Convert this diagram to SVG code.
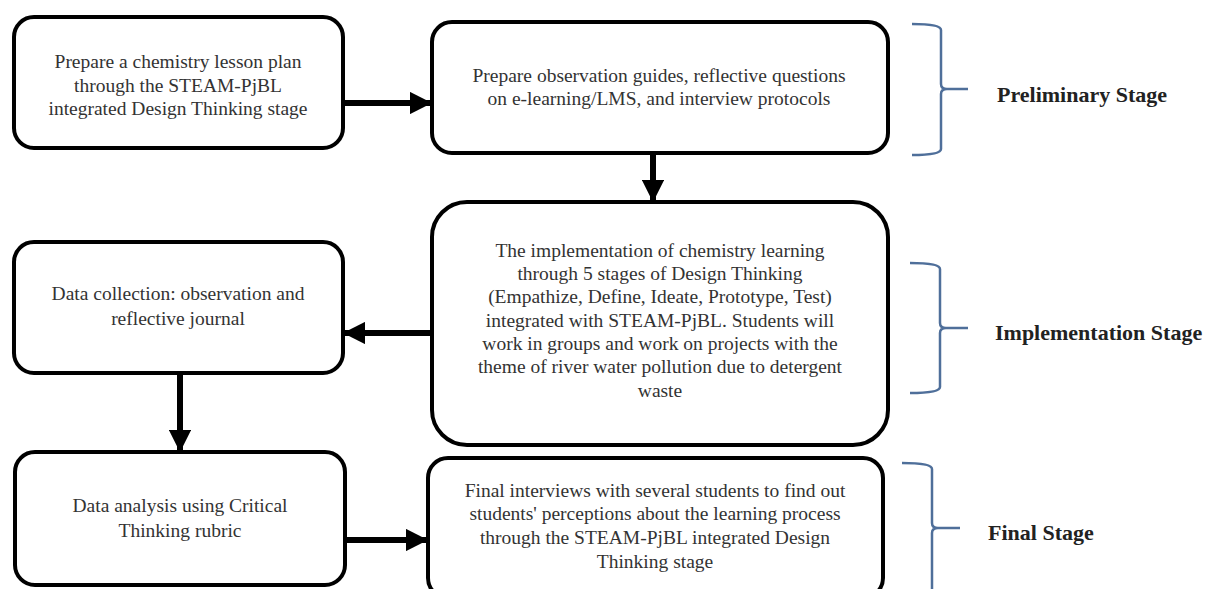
<svg xmlns="http://www.w3.org/2000/svg" width="1211" height="589" viewBox="0 0 1211 589">
<style>
.box{fill:#fff;stroke:#000;stroke-width:4}
.t{font-family:"Liberation Serif","Times New Roman",serif;font-size:19.5px;fill:#333;text-anchor:middle}
.lab{font-family:"Liberation Serif","Times New Roman",serif;font-size:22px;font-weight:bold;fill:#222}
.br{fill:none;stroke:#4f6f9a;stroke-width:2.5}
.c{stroke:#000;stroke-width:6;fill:none}
</style>
<defs>
<marker id="ah" viewBox="0 0 10 10" refX="9" refY="5" markerWidth="3.7" markerHeight="3.7" orient="auto" markerUnits="strokeWidth">
<path d="M0,0 L10,5 L0,10 Z" fill="#000"/>
</marker>
</defs>
<rect width="1211" height="589" fill="#fff"/>
<g id="connectors">
<line class="c" x1="343" y1="103" x2="430" y2="103" marker-end="url(#ah)"/>
<line class="c" x1="653" y1="153" x2="653" y2="200" marker-end="url(#ah)"/>
<line class="c" x1="432" y1="333" x2="345" y2="333" marker-end="url(#ah)"/>
<line class="c" x1="180" y1="373" x2="180" y2="450" marker-end="url(#ah)"/>
<line class="c" x1="345" y1="540" x2="426" y2="540" marker-end="url(#ah)"/>
</g>
<g id="n1">
<rect class="box" x="14" y="17" width="329" height="131" rx="20"/>
<text class="t" x="178" y="68">Prepare a chemistry lesson plan</text>
<text class="t" x="178" y="92">through the STEAM-PjBL</text>
<text class="t" x="178" y="115">integrated Design Thinking stage</text>
</g>
<g id="n2">
<rect class="box" x="432" y="22" width="456" height="131" rx="20"/>
<text class="t" x="659" y="82">Prepare observation guides, reflective questions</text>
<text class="t" x="659" y="105">on e-learning/LMS, and interview protocols</text>
</g>
<g id="n3">
<rect class="box" x="432" y="202" width="456" height="243" rx="35"/>
<text class="t" x="660" y="257">The implementation of chemistry learning</text>
<text class="t" x="660" y="280">through 5 stages of Design Thinking</text>
<text class="t" x="660" y="303">(Empathize, Define, Ideate, Prototype, Test)</text>
<text class="t" x="660" y="327">integrated with STEAM-PjBL. Students will</text>
<text class="t" x="660" y="350">work in groups and work on projects with the</text>
<text class="t" x="660" y="373">theme of river water pollution due to detergent</text>
<text class="t" x="660" y="397">waste</text>
</g>
<g id="n4">
<rect class="box" x="14" y="242" width="329" height="131" rx="20"/>
<text class="t" x="178" y="300">Data collection: observation and</text>
<text class="t" x="178" y="325">reflective journal</text>
</g>
<g id="n5">
<rect class="box" x="15" y="452" width="330" height="133" rx="20"/>
<text class="t" x="180" y="512">Data analysis using Critical</text>
<text class="t" x="180" y="537">Thinking rubric</text>
</g>
<g id="n6">
<rect class="box" x="428" y="458" width="455" height="140" rx="20"/>
<text class="t" x="655" y="497">Final interviews with several students to find out</text>
<text class="t" x="655" y="520">students' perceptions about the learning process</text>
<text class="t" x="655" y="544">through the STEAM-PjBL integrated Design</text>
<text class="t" x="655" y="568">Thinking stage</text>
</g>
<g id="stage1">
<path class="br" d="M912,24 Q941,24 941,30 L941,84 Q941,89 947,89 L968,89 M947,89 Q941,89 941,94 L941,149 Q941,155 912,155"/>
<text class="lab" x="997" y="102">Preliminary Stage</text>
</g>
<g id="stage2">
<path class="br" d="M910,263 Q940,263 940,269 L940,323 Q940,328 946,328 L968,328 M946,328 Q940,328 940,333 L940,387 Q940,393 910,393"/>
<text class="lab" x="995" y="340">Implementation Stage</text>
</g>
<g id="stage3">
<path class="br" d="M902,463 Q932,463 932,469 L932,523 Q932,528 938,528 L960,528 M938,528 Q932,528 932,533 L932,600"/>
<text class="lab" x="988" y="540">Final Stage</text>
</g>
</svg>
